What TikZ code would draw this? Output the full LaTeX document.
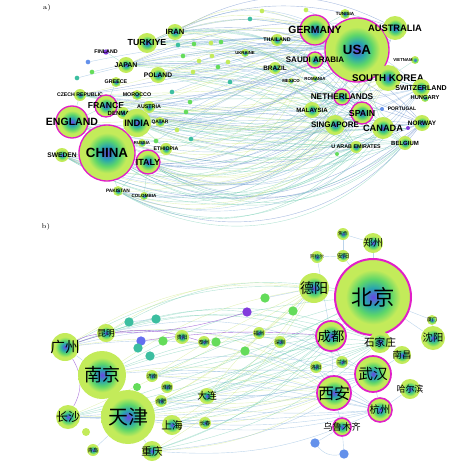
\documentclass[tikz,border=0pt]{standalone}
\usepackage{fontspec}
\setsansfont{Liberation Sans}
\newfontfamily\cjk{Noto Sans CJK SC}
\usetikzlibrary{backgrounds}

\definecolor{nblue}{RGB}{105,70,230}
\definecolor{nteal}{RGB}{40,165,175}
\definecolor{ngreen}{RGB}{95,215,105}
\definecolor{nlime}{RGB}{195,235,90}
\definecolor{ring}{RGB}{225,30,200}
\definecolor{eA}{RGB}{120,170,215}
\definecolor{eB}{RGB}{100,200,170}
\definecolor{eC}{RGB}{200,230,120}
\definecolor{eD}{RGB}{80,120,195}
\definecolor{eP}{RGB}{150,80,210}
\definecolor{dteal}{RGB}{60,190,160}
\definecolor{dgreen}{RGB}{100,220,90}
\definecolor{dpurple}{RGB}{130,60,220}
\definecolor{dblue}{RGB}{100,110,240}
\definecolor{dsky}{RGB}{100,145,235}

\pgfdeclareradialshading{ball}{\pgfpoint{0bp}{0bp}}{color(0bp)=(nblue); color(6bp)=(nteal); color(12bp)=(ngreen); color(18bp)=(nlime); color(25bp)=(nlime); color(50bp)=(nlime)}

\tikzset{
  ball/.style={circle, inner sep=0pt, shading=ball, minimum size={#1*1.5pt}},
  hub/.style={ball=#1, draw=ring, line width=1pt},
  dot/.style={circle, inner sep=0pt, fill=#1, minimum size=5pt},
  lab/.style={font=\sffamily\bfseries\fontsize{#1}{#1}\selectfont, inner sep=0pt},
  zh/.style={font=\cjk\fontsize{#1}{#1}\selectfont, inner sep=0pt},
  edge/.style={draw=#1, line width=.3pt, opacity=.5},
}

\begin{document}
\begin{tikzpicture}[x=0.75pt, y=-0.75pt]
  \useasboundingbox (0,0) rectangle (473,471);

  % Part a
  \node[font=\fontsize{5}{5}\selectfont] (tagA) at (47,8) {a)};
  \node[hub=32, label={[lab=10]center:USA}] (usa) at (357,50) {};
  \node[hub=28, label={[lab=10]center:CHINA}] (china) at (107,153) {};
  \node[hub=15, label={[lab=7.8]center:GERMANY}] (germany) at (315,30) {};
  \node[ball=12, label={[lab=7]center:AUSTRALIA}] (australia) at (395,28) {};
  \node[hub=8, label={[lab=6]center:SAUDI ARABIA}] (saudi) at (315,60) {};
  \node[ball=13, label={[lab=7.3]center:SOUTH KOREA}] (korea) at (388,78) {};
  \node[ball=6, label={[lab=4.8]center:BRAZIL}] (brazil) at (275,68) {};
  \node[ball=6, label={[lab=4]center:THAILAND}] (thailand) at (277,40) {};
  \node[ball=4, label={[lab=3.2]center:UKRAINE}] (ukraine) at (245,53) {};
  \node[ball=5, label={[lab=3.4]center:TUNISIA}] (tunisia) at (345,14) {};
  \node[ball=4, label={[lab=3.2,xshift=-9pt]center:VIETNAM}] (vietnam) at (415,60) {};
  \node[ball=3, label={[lab=3.3]center:MEXICO}] (mexico) at (291,81) {};
  \node[ball=3, label={[lab=3.3]center:ROMANIA}] (romania) at (315,79) {};
  \node[hub=8, label={[lab=6.2]center:NETHERLANDS}] (netherlands) at (342,97) {};
  \node[ball=9, label={[lab=5.3]center:SWITZERLAND}] (switzerland) at (421,88) {};
  \node[ball=4, label={[lab=4.3]center:HUNGARY}] (hungary) at (425,98) {};
  \node[ball=8, label={[lab=4.6]center:MALAYSIA}] (malaysia) at (312,110) {};
  \node[hub=11, label={[lab=6.6]center:SPAIN}] (spain) at (362,113) {};
  \node[dot=dsky, minimum size=3pt, label={[lab=3.8,xshift=15pt]center:PORTUGAL}] (portugal) at (382,109) {};
  \node[ball=8, label={[lab=4.8]center:NORWAY}] (norway) at (422,123) {};
  \node[ball=10, label={[lab=6]center:SINGAPORE}] (singapore) at (335,125) {};
  \node[ball=11, label={[lab=6.9]center:CANADA}] (canada) at (383,128) {};
  \node[dot=dpurple, minimum size=3pt] (pviolet) at (408,128) {};
  \node[ball=6, label={[lab=4]center:U ARAB EMIRATES}] (uae) at (356,147) {};
  \node[ball=7, label={[lab=4.5]center:BELGIUM}] (belgium) at (405,143) {};
  \node[dot=dgreen, minimum size=3pt] (pgreen) at (337,154) {};
  \node[ball=8, label={[lab=5.7]center:IRAN}] (iran) at (175,32) {};
  \node[ball=10, label={[lab=6.6]center:TURKIYE}] (turkiye) at (147,43) {};
  \node[dot=dpurple, minimum size=4pt, label={[lab=4]center:FINLAND}] (finland) at (106,52) {};
  \node[ball=8, label={[lab=5.2]center:JAPAN}] (japan) at (126,65) {};
  \node[ball=8, label={[lab=5]center:POLAND}] (poland) at (158,75) {};
  \node[ball=5, label={[lab=4]center:GREECE}] (greece) at (116,82) {};
  \node[ball=6, label={[lab=3.9]center:CZECH REPUBLIC}] (czech) at (80,95) {};
  \node[ball=5, label={[lab=4]center:MOROCCO}] (morocco) at (137,95) {};
  \node[hub=11, label={[lab=6.5]center:FRANCE}] (france) at (106,106) {};
  \node[ball=6, label={[lab=4.5]center:DENMARK}] (denmark) at (123,113) {};
  \node[ball=6, label={[lab=4]center:AUSTRIA}] (austria) at (149,107) {};
  \node[hub=16, label={[lab=7.9]center:ENGLAND}] (england) at (72,122) {};
  \node[ball=14, label={[lab=7]center:INDIA}] (india) at (137,123) {};
  \node[ball=5, label={[lab=3.7]center:QATAR}] (qatar) at (160,122) {};
  \node[ball=7, label={[lab=5]center:SWEDEN}] (sweden) at (62,155) {};
  \node[ball=4, label={[lab=3.2]center:RUSSIA}] (russia) at (142,143) {};
  \node[ball=6, label={[lab=3.9]center:ETHIOPIA}] (ethiopia) at (166,149) {};
  \node[hub=12, label={[lab=6.7]center:ITALY}] (italy) at (148,162) {};
  \node[ball=5, label={[lab=3.6]center:PAKISTAN}] (pakistan) at (118,191) {};
  \node[ball=4, label={[lab=3.4]center:COLOMBIA}] (colombia) at (144,196) {};

  % small unnamed countries
  \foreach \x/\y/\c [count=\i] in {178/45/dteal, 194/44/dgreen, 211/43/nlime, 221/42/dgreen, 183/56/dgreen,
      199/61/nlime, 193/72/nlime, 212/56/nlime, 218/67/dgreen, 228/62/nlime, 250/19/dteal, 262/11/nlime,
      306/10/nlime, 88/62/dsky, 92/72/dgreen, 77/78/dteal, 172/92/dteal, 190/102/dgreen, 186/112/dgreen,
      156/141/dgreen, 191/139/dteal, 177/130/nlime, 230/82/dteal}
    \node[dot=\c, minimum size=3.5pt] (pa\i) at (\x,\y) {};

  % Part b
  \node[font=\fontsize{5}{5}\selectfont] (tagB) at (46,227) {b)};
  \node[hub=38, line width=1.5pt, label={[zh=16]center:北京}] (beijing) at (373,297) {};
  \node[ball=27, label={[zh=15]center:天津}] (tianjin) at (128,417) {};
  \node[ball=24, label={[zh=13.5]center:南京}] (nanjing) at (102,375) {};
  \node[hub=18, line width=1.3pt, label={[zh=11]center:武汉}] (wuhan) at (373,374) {};
  \node[hub=17, line width=1.3pt, label={[zh=12]center:西安}] (xian) at (334,393) {};
  \node[hub=15, line width=1.3pt, label={[zh=10]center:成都}] (chengdu) at (331,336) {};
  \node[ball=15, label={[zh=10.5]center:德阳}] (deyang) at (314,288) {};
  \node[ball=14, label={[zh=11]center:广州}] (guangzhou) at (65,347) {};
  \node[ball=12, label={[zh=9]center:长沙}] (changsha) at (68,417) {};
  \node[ball=12, label={[zh=7.7]center:沈阳}] (shenyang) at (433,338) {};
  \node[hub=12, line width=1.2pt, label={[zh=7.7]center:杭州}] (hangzhou) at (380,410) {};
  \node[ball=10, label={[zh=7.3]center:郑州}] (zhengzhou) at (373,243) {};
  \node[ball=10, label={[zh=8]center:上海}] (shanghai) at (172,425) {};
  \node[ball=10, label={[zh=8]center:重庆}] (chongqing) at (152,451) {};
  \node[ball=9, label={[zh=6.5]center:昆明}] (kunming) at (106,333) {};
  \node[ball=10, label={[zh=6.7]center:哈尔滨}] (haerbin) at (410,389) {};
  \node[hub=9, line width=1.2pt, label={[zh=7]center:乌鲁木齐}] (urumqi) at (342,427) {};
  \node[ball=11, label={[zh=8]center:石家庄}] (shijiazhuang) at (380,342) {};
  \node[ball=9, label={[zh=7]center:南昌}] (nanchang) at (402,355) {};
  \node[ball=8, label={[zh=7.3]center:大连}] (dalian) at (207,396) {};
  \node[ball=6, label={[zh=3.6]center:焦作}] (jiaozuo) at (343,234) {};
  \node[ball=6, label={[zh=4.5]center:安阳}] (anyang) at (343,256) {};
  \node[ball=6, label={[zh=3.5]center:阿拉尔}] (alaer) at (317,257) {};
  \node[ball=5, label={[zh=3.6]center:厦门}] (xiamen) at (432,320) {};
  \node[ball=6, label={[zh=4]center:福州}] (fuzhou) at (259,333) {};
  \node[ball=6, label={[zh=4]center:深圳}] (shenzhen) at (280,342) {};
  \node[ball=6, label={[zh=4]center:洛阳}] (luoyang) at (316,367) {};
  \node[ball=6, label={[zh=4]center:兰州}] (lanzhou) at (342,362) {};
  \node[ball=7, label={[zh=4]center:贵阳}] (guiyang) at (182,337) {};
  \node[ball=6, label={[zh=4]center:泰州}] (taizhou) at (204,342) {};
  \node[ball=6, label={[zh=4]center:济南}] (jinan) at (152,376) {};
  \node[ball=6, label={[zh=4]center:淮南}] (huainan) at (167,387) {};
  \node[ball=6, label={[zh=4]center:合肥}] (hefei) at (161,401) {};
  \node[ball=6, label={[zh=4]center:长春}] (changchun) at (205,423) {};
  \node[ball=6, label={[zh=4]center:青岛}] (qingdao) at (93,450) {};

  % small unnamed cities
  \node[dot=dteal, minimum size=7pt] (ct1) at (129,322) {};
  \node[dot=dteal, minimum size=7pt] (ct2) at (156,319) {};
  \node[dot=dblue, minimum size=7pt] (cb1) at (141,341) {};
  \node[dot=dteal, minimum size=7pt] (ct3) at (138,348) {};
  \node[dot=dteal, minimum size=7pt] (ct4) at (150,356) {};
  \node[dot=dgreen, minimum size=7pt] (cg1) at (163,341) {};
  \node[dot=dgreen, minimum size=7pt] (cg2) at (216,342) {};
  \node[dot=dgreen, minimum size=6pt] (cg3) at (137,387) {};
  \node[dot=nlime, minimum size=6pt] (cg4) at (86,432) {};
  \node[dot=dpurple, minimum size=7pt] (cp1) at (247,312) {};
  \node[dot=dgreen, minimum size=7pt] (cg5) at (265,298) {};
  \node[dot=dgreen, minimum size=7pt] (cg6) at (293,311) {};
  \node[dot=dgreen, minimum size=7pt] (cg7) at (245,351) {};
  \node[dot=dsky, minimum size=7pt] (cs1) at (315,443) {};
  \node[dot=dsky, minimum size=7pt] (cs2) at (344,454) {};

  \begin{scope}[on background layer]
    % a: links across the map
    \foreach \l/\ang in {china/-36, italy/-38, sweden/-32, pakistan/-40, england/-22, india/-18, france/-10,
        denmark/-6, czech/-2, poland/8, japan/14, turkiye/22, iran/28}
      \foreach \r/\c in {usa/eA, canada/eB, korea/eC, spain/eA, belgium/eB, norway/eD, singapore/eC,
          netherlands/eB, switzerland/eA, australia/eD, germany/eC, uae/eB}
        \draw[edge=\c] (\l) to[bend left=\ang] (\r);
    \foreach \a/\b in {usa/germany, usa/korea, usa/australia, usa/saudi, usa/spain, usa/canada, usa/netherlands,
        usa/brazil, usa/thailand, spain/netherlands, spain/portugal, korea/vietnam, korea/switzerland,
        canada/norway, canada/pviolet, belgium/canada, uae/pgreen, germany/tunisia, china/england, china/italy,
        china/india, china/sweden, england/france, england/czech, france/greece, india/qatar, italy/colombia,
        italy/pakistan, china/pakistan, turkiye/iran, japan/finland, china/russia, india/ethiopia}
      \draw[edge=eB] (\a) -- (\b);
    \foreach \i in {1,...,23}
      \draw[edge=eA] (pa\i) to[bend left=8] (usa);

    % b: links between cities
    \foreach \l/\ang in {nanjing/12, tianjin/-8, guangzhou/18, changsha/-4, shanghai/-10, chongqing/-14,
        dalian/6, kunming/20, jinan/4, hefei/-6}
      \foreach \r/\c in {chengdu/eB, xian/eC, wuhan/eA, beijing/eB, deyang/eC, hangzhou/eA, shijiazhuang/eB}
        \draw[edge=\c] (\l) to[bend left=\ang] (\r);
    \foreach \a/\b in {jiaozuo/zhengzhou, jiaozuo/anyang, alaer/anyang, alaer/chengdu, zhengzhou/beijing,
        anyang/beijing, beijing/shenyang, beijing/xiamen, xiamen/shenyang, wuhan/hangzhou, hangzhou/haerbin,
        wuhan/nanchang, xian/urumqi, xian/hangzhou, urumqi/cs1, urumqi/cs2, ct1/ct2, nanjing/tianjin,
        changsha/tianjin, tianjin/qingdao, tianjin/chongqing, tianjin/shanghai, nanjing/guangzhou,
        chengdu/xian, chengdu/lanzhou, luoyang/xian, deyang/cg6, deyang/cg5, beijing/shijiazhuang}
      \draw[edge=eA] (\a) -- (\b);
    \draw[edge=eA] (cs1) to[bend right=30] (cs2);
    \foreach \a/\b/\ang in {guangzhou/kunming/10, kunming/cp1/-8, guangzhou/taizhou/18, changsha/guangzhou/-30,
        cb1/chengdu/6}
      \draw[edge=eP, opacity=.8] (\a) to[bend left=\ang] (\b);
  \end{scope}
\end{tikzpicture}
\end{document}
